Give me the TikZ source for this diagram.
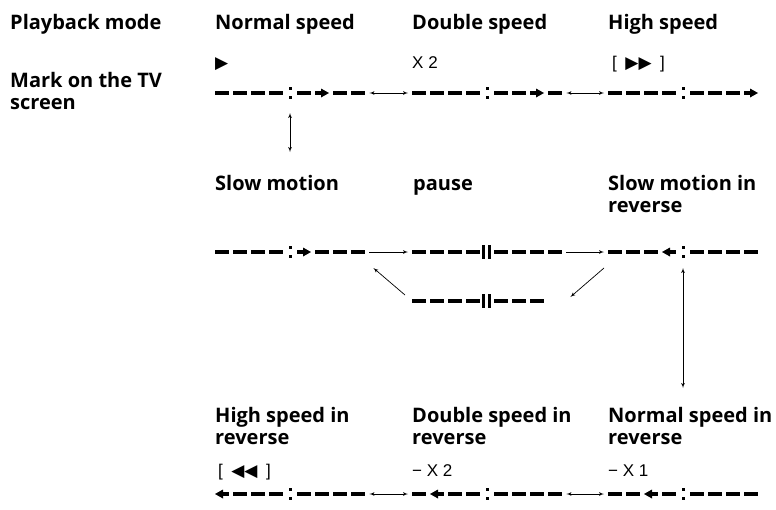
\documentclass[tikz,border=0pt]{standalone}
\usepackage{fontspec}
\setmainfont{Open Sans}
\newfontfamily\signfont{Liberation Sans}
\newfontfamily\symfont{DejaVu Sans}
\usetikzlibrary{arrows,positioning}

% one tape mark: node, arrow slot (0 = none), r/l, c(olon)/p(ause), number of slots
\newcommand\drawtape[5]{%
  \begin{scope}[shift={(#1.west)}]
    \foreach \i in {1,...,#5}{
      \pgfmathsetmacro\sx{\i<5 ? (\i-1)*18 : 82+(\i-5)*18}
      \ifnum\i=#2
        \if#3r
          \fill (\sx,-2) rectangle ++(7,4);
          \fill (\sx+6,-4.5) -- (\sx+14,0) -- (\sx+6,4.5) -- cycle;
        \else
          \fill (\sx,0) -- (\sx+8,-4.5) -- (\sx+8,4.5) -- cycle;
          \fill (\sx+7,-2) rectangle ++(7,4);
        \fi
      \else
        \fill (\sx,-2) rectangle ++(14,4);
      \fi
    }
    \if#4p
      \fill (70,-7) rectangle (73,7);
      \fill (76,-7) rectangle (79,7);
    \else
      \fill (74,-6) rectangle (77,-3);
      \fill (74,3) rectangle (77,6);
    \fi
  \end{scope}}

\tikzset{
  mode/.style={anchor=base west, inner sep=0pt, align=left,
    font=\fontsize{20}{22}\selectfont\bfseries},
  sign/.style={anchor=base west, inner sep=0pt, font=\signfont\fontsize{17}{19}\selectfont},
  tape/.style={anchor=west, inner sep=0pt, minimum width=150pt, minimum height=10pt},
  move/.style={->, >=latex', line width=0.7pt},
  toggle/.style={<->, >=latex', line width=0.7pt, shorten >=4pt, shorten <=4pt}
}

\begin{document}
\begin{tikzpicture}[x=1pt, y=-1pt]
	\useasboundingbox (0,0) rectangle (776,509);
	% row heads
	\node [mode] (pm) at (10,29) {Playback mode};
	\node [mode] (mk) at (10,109) {Mark on the TV\\screen};
	
	% forward
	\node [mode] (ns) at (215,29) {Normal speed};
	\node [mode] (ds) at (412,29) {Double speed};
	\node [mode] (hs) at (608,29) {High speed};
	\node [sign] (nsm) at (215,68) {\symfont ▶};
	\node [sign] (dsm) at (412,68) {X 2};
	\node [sign] (hsm) at (612,68) {[\enspace{\symfont ▶▶}\enspace]};
	\node [tape] (nb) at (215,93) {};
	\node [tape] (db) at (412,93) {};
	\node [tape] (hb) at (608,93) {};
	\drawtape{nb}{6}{r}{c}{8}
	\drawtape{db}{7}{r}{c}{8}
	\drawtape{hb}{8}{r}{c}{8}
	\draw [toggle] (nb) -- (db);
	\draw [toggle] (db) -- (hb);
	
	% slow and pause
	\node [mode] (sm) at (215,190) {Slow motion};
	\node [mode] (pa) at (413,190) {pause};
	\node [mode] (sr) at (608,212) {Slow motion in\\reverse};
	\node [tape] (sb) at (215,252) {};
	\node [tape] (pb) at (412,252) {};
	\node [tape] (rb) at (608,252) {};
	\node [tape, minimum width=132pt] (qb) at (412,301) {};
	\drawtape{sb}{5}{r}{c}{8}
	\drawtape{pb}{0}{r}{p}{8}
	\drawtape{rb}{4}{l}{c}{8}
	\drawtape{qb}{0}{r}{p}{7}
	\draw [move, shorten >=4pt, shorten <=4pt] (sb) -- (pb);
	\draw [move, shorten >=4pt, shorten <=4pt] (pb) -- (rb);
	\draw [move] ([shift={(-7,-6)}]qb.west) -- ([shift={(8,16)}]sb.east);
	\draw [move] ([shift={(-4,16)}]rb.west) -- ([shift={(26,-4)}]qb.east);
	\draw [toggle, shorten >=0pt, shorten <=0pt] ([shift={(75,20)}]nb.west) -- ([shift={(75,-100)}]sb.west);
	
	% reverse
	\node [mode] (hr) at (215,444) {High speed in\\reverse};
	\node [mode] (dr) at (412,444) {Double speed in\\reverse};
	\node [mode] (nr) at (608,444) {Normal speed in\\reverse};
	\node [sign] (hrm) at (218,476) {[\enspace{\symfont ◀◀}\enspace]};
	\node [sign] (drm) at (412,476) {− X 2};
	\node [sign] (nrm) at (608,476) {− X 1};
	\node [tape] (hrb) at (215,494) {};
	\node [tape] (drb) at (412,494) {};
	\node [tape] (nrb) at (608,494) {};
	\drawtape{hrb}{1}{l}{c}{8}
	\drawtape{drb}{2}{l}{c}{8}
	\drawtape{nrb}{3}{l}{c}{8}
	\draw [toggle] (hrb) -- (drb);
	\draw [toggle] (drb) -- (nrb);
	\draw [toggle, shorten >=0pt, shorten <=0pt] ([shift={(75,16)}]rb.west) -- ([shift={(75,-106)}]nrb.west);
\end{tikzpicture}
\end{document}
